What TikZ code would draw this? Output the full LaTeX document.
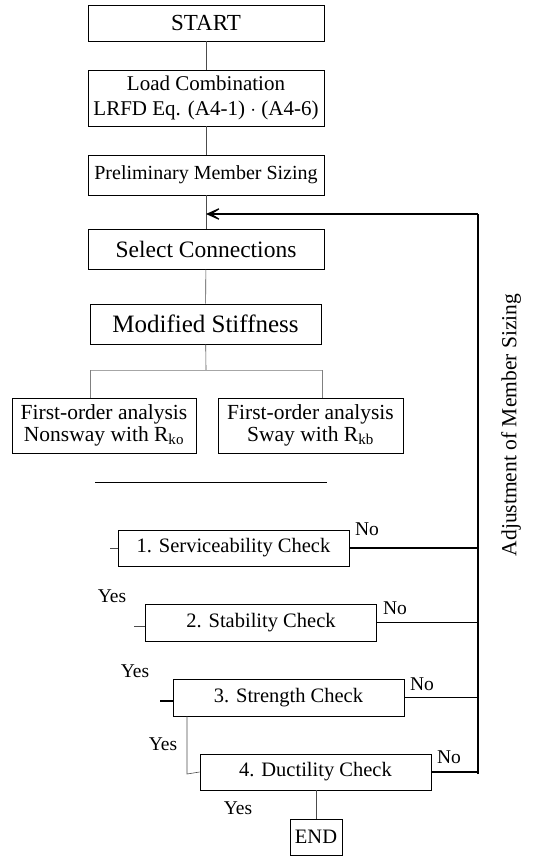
\documentclass[tikz,border=0pt]{standalone}
\usepackage{fontspec}
\setmainfont{Liberation Serif}
\usetikzlibrary{arrows.meta, positioning, calc}
\tikzset{
    stepbox/.style={rectangle, draw, line width=0.9pt, inner sep=0pt, align=center, font=\fontsize{20.5}{23}\selectfont},
    checkbox/.style={stepbox, minimum width=231pt, minimum height=36pt},
    lbl/.style={inner sep=0pt, font=\fontsize{19.5}{22}\selectfont},
    link/.style={line width=0.6pt, black!70},
    loop/.style={line width=1.2pt}
}

\begin{document}
\begin{tikzpicture}[x=1pt, y=-1pt, >=Stealth]
        \useasboundingbox (0,0) rectangle (539,856);
        \node[stepbox, minimum width=236pt, minimum height=36pt, font=\fontsize{23}{25}\selectfont] (start) at (206,23) {START};
        \node[stepbox, minimum width=236pt, minimum height=56pt, font=\fontsize{21}{25}\selectfont] (load) at (206,98) {Load Combination\\LRFD Eq. (A4-1) $\cdot$ (A4-6)};
        \node[stepbox, minimum width=236pt, minimum height=40pt, font=\fontsize{20}{22}\selectfont] (prelim) at (206,175) {Preliminary Member Sizing};
        \node[stepbox, minimum width=236pt, minimum height=40pt, font=\fontsize{23.5}{25}\selectfont] (select) at (206,249) {Select Connections};
        \node[stepbox, minimum width=231pt, minimum height=40pt, font=\fontsize{25}{27}\selectfont] (modstiff) at (205.5,324) {Modified Stiffness};
        \node[stepbox, minimum width=184pt, minimum height=55pt, font=\fontsize{21.5}{22}\selectfont] (nonsway) at (104,425.5) {First-order analysis\\Nonsway with R\textsubscript{ko}};
        \node[stepbox, minimum width=185pt, minimum height=55pt, font=\fontsize{21.5}{22}\selectfont] (sway) at (310.5,425.5) {First-order analysis\\Sway with R\textsubscript{kb}};

        \node[checkbox] (svc) at (233.5,548) {1. Serviceability Check};
        \node[checkbox, minimum height=37pt] (stab) at (261,622.5) {2. Stability Check};
        \node[checkbox, minimum height=37pt] (strength) at (288.5,697.5) {3. Strength Check};
        \node[checkbox] (duct) at (315.5,772) {4. Ductility Check};
        \node[stepbox, minimum width=52pt, minimum height=36pt] (endbox) at (316,837) {END};

        \draw[link] (start) -- (load);
        \draw[link] (load) -- (prelim);
        \draw[link] (prelim) -- (select);
        \draw[link] (select) -- (modstiff);

        \coordinate (split) at (206,370);
        \coordinate (sl) at (90,370);
        \coordinate (sr) at (322,370);
        \draw[link] (modstiff) -- (split);
        \draw[link, black!35] (sl) -- (sr);
        \draw[link, black!50] (sl) -- (sl |- nonsway.north);
        \draw[link, black!50] (sr) -- (sr |- sway.north);

        \coordinate (hl) at (95,482);
        \coordinate (hr) at (327,482);
        \draw[line width=1pt] (hl) -- (hr);

        \coordinate (ret) at (478,214);
        \coordinate (join) at (206,214);
        \coordinate (retbot) at (478,774);
        \draw[loop] (retbot) -- (ret);
        \draw[loop, ->, >={Stealth[length=20pt, width=18pt, inset=14pt]}] (ret) -- (join);

        \draw[loop] (svc.east) -- (svc.east -| ret);
        \draw[loop] (stab.east) -- (stab.east -| ret);
        \draw[loop] (strength.east) -- (strength.east -| ret);
        \draw[loop] (duct.east) -- (duct.east -| ret);

        \coordinate (svcin) at (110,548);
        \coordinate (stabin) at (134,626);
        \coordinate (strin) at (160,701);
        \coordinate (bend) at (187,774);
        \draw[link] (svcin) -- (svc.west);
        \draw[link] (stabin) -- (stabin -| stab.west);
        \draw[loop] (strin) -- (strin -| strength.west);
        \draw[link] (strength.south -| bend) -- (bend) -- (duct.west);
        \draw[link] (duct.south -| endbox) -- (endbox);

        \node[lbl] (no1) at (367,529) {No};
        \node[lbl] (no2) at (395,608) {No};
        \node[lbl] (no3) at (422,684) {No};
        \node[lbl] (no4) at (449,757) {No};
        \node[lbl] (yes1) at (112,596) {Yes};
        \node[lbl] (yes2) at (135,671) {Yes};
        \node[lbl] (yes3) at (163,744) {Yes};
        \node[lbl] (yes4) at (238,808) {Yes};

        \node[lbl, rotate=90, font=\fontsize{21.5}{23}\selectfont] (adjust) at (511,425) {Adjustment of Member Sizing};
    \end{tikzpicture}
\end{document}
